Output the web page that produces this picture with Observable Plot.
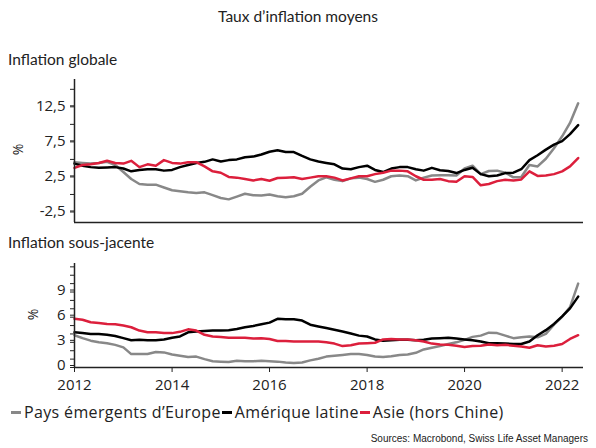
<!DOCTYPE html>
<html>
<head>
<meta charset="utf-8">
<script src="https://cdn.jsdelivr.net/npm/d3@7"></script>
<script src="https://cdn.jsdelivr.net/npm/@observablehq/plot@0.6"></script>
<style>
  html, body { margin: 0; padding: 0; background: #fff; }
  #root { position: relative; width: 596px; height: 448px; overflow: hidden; font-family: "Open Sans", sans-serif; color: #222; }
  .abs { position: absolute; white-space: nowrap; }
  #title { top: 7px; left: 0; width: 596px; text-align: center; font-family: Lato, sans-serif; font-size: 15.5px; }
  .sub { left: 8px; font-family: Lato, sans-serif; font-size: 15.5px; }
  .pct { font-size: 14px; transform: rotate(-90deg); transform-origin: center; }
  #legend { top: 401px; left: 10px; font-size: 16px; letter-spacing: 0.35px; display: flex; align-items: center; }
  #legend .sw { display: inline-block; width: 10px; height: 3px; margin-right: 3px; margin-left: 1px; }
  #src { top: 433px; right: 8px; font-family: "Liberation Sans", Arial, sans-serif; font-size: 10px; }
  .plot { position: absolute; left: 0; }
</style>
</head>
<body>
<div id="root">
  <div id="title" class="abs">Taux d’inflation moyens</div>
  <div class="abs sub" style="top:50px">Inflation globale</div>
  <div class="abs sub" style="top:233px">Inflation sous-jacente</div>
  <div class="abs pct" style="left:12px; top:140px">%</div>
  <div class="abs pct" style="left:27px; top:305px">%</div>
  <div id="top" class="plot" style="top:70px"></div>
  <div id="bot" class="plot" style="top:255px"></div>
  <div id="legend" class="abs"></div>
  <div id="src" class="abs">Sources: Macrobond, Swiss Life Asset Managers</div>
</div>
<script>
// Series
const seriesNames = ["Pays émergents d’Europe", "Amérique latine", "Asie (hors Chine)"];
const seriesColors = ["#888888", "#000000", "#dc1f3c"];

// Bi-monthly observations, Jan 2012 .. May 2022
const startYear = 2012, stepMonths = 2;

// Inflation globale (%)
const topEurope = [4.6, 4.5, 4.4, 4.5, 4.65, 4.2, 3.2, 2.2, 1.5, 1.4, 1.4, 1.0, 0.6, 0.45, 0.3, 0.2, 0.3, -0.1, -0.5, -0.7, -0.3, 0.1,
  -0.1, -0.15, 0.0, -0.25, -0.4, -0.25, 0.1, 1.1, 2.0, 2.45, 2.1, 1.9, 2.3, 2.4, 2.2, 1.8, 2.1, 2.6, 2.7, 2.6, 2.0,
  2.4, 2.7, 2.75, 2.75, 2.7, 3.7, 4.1, 2.9, 3.35, 3.4, 3.1, 2.45, 2.5, 4.2, 4.0, 5.1, 6.6, 8.3, 10.2, 13.0];
const topLatam = [4.4, 4.1, 3.9, 3.8, 3.85, 3.9, 3.7, 3.3, 3.5, 3.6, 3.6, 3.4, 3.5, 3.9, 4.2, 4.5, 4.65, 5.0, 4.7, 4.9, 5.0, 5.3,
  5.4, 5.7, 6.1, 6.3, 6.05, 6.05, 5.5, 5.0, 4.7, 4.5, 4.3, 3.7, 3.6, 3.9, 4.1, 3.5, 3.2, 3.7, 3.9, 3.9, 3.6,
  3.4, 3.8, 3.45, 3.35, 3.05, 3.5, 3.8, 2.9, 2.6, 2.7, 3.05, 3.1, 3.6, 4.9, 5.6, 6.4, 7.1, 7.6, 8.6, 9.9];
const topAsia = [3.8, 4.2, 4.3, 4.5, 4.8, 4.5, 4.4, 4.8, 3.9, 4.3, 4.1, 4.9, 4.5, 4.4, 4.6, 4.6, 4.0, 3.3, 3.1, 2.5, 2.4, 2.2,
  2.0, 2.2, 1.95, 2.35, 2.4, 2.45, 2.2, 2.4, 2.6, 2.6, 2.4, 2.0, 2.3, 2.6, 2.6, 2.9, 3.1, 3.4, 3.4, 3.3, 2.6,
  2.1, 2.1, 2.2, 1.9, 1.8, 2.6, 2.5, 1.3, 1.5, 1.9, 2.1, 2.0, 2.15, 3.3, 2.65, 2.7, 2.9, 3.3, 4.0, 5.2];

// Inflation sous-jacente (%)
const botEurope = [3.85, 3.5, 3.2, 3.0, 2.9, 2.7, 2.4, 1.6, 1.6, 1.6, 1.85, 1.8, 1.55, 1.4, 1.25, 1.3, 1.0, 0.75, 0.7, 0.65, 0.8, 0.75,
  0.75, 0.8, 0.75, 0.7, 0.6, 0.55, 0.6, 0.85, 1.05, 1.3, 1.4, 1.5, 1.6, 1.6, 1.5, 1.3, 1.25, 1.35, 1.5, 1.55, 1.75,
  2.15, 2.35, 2.55, 2.8, 3.0, 3.3, 3.65, 3.8, 4.15, 4.1, 3.8, 3.5, 3.6, 3.7, 3.6, 4.0, 5.1, 6.05, 7.2, 10.0];
const botLatam = [4.2, 4.1, 4.0, 4.0, 3.9, 3.75, 3.5, 3.25, 3.3, 3.25, 3.25, 3.35, 3.55, 3.7, 4.2, 4.3, 4.35, 4.4, 4.4, 4.45, 4.6, 4.8,
  4.95, 5.15, 5.35, 5.8, 5.75, 5.75, 5.6, 5.1, 4.9, 4.7, 4.5, 4.3, 4.05, 3.8, 3.7, 3.35, 3.2, 3.25, 3.3, 3.3, 3.25,
  3.3, 3.45, 3.5, 3.55, 3.45, 3.35, 3.25, 3.1, 2.9, 2.9, 2.85, 2.8, 2.8, 3.1, 3.85, 4.45, 5.2, 6.1, 7.05, 8.45];
const botAsia = [5.8, 5.7, 5.4, 5.3, 5.2, 5.15, 5.0, 4.8, 4.4, 4.2, 4.2, 4.1, 4.1, 4.25, 4.55, 4.4, 3.9, 3.7, 3.65, 3.55, 3.55, 3.55,
  3.45, 3.5, 3.4, 3.15, 3.15, 3.1, 3.1, 3.1, 3.1, 3.0, 2.85, 2.55, 2.65, 2.85, 2.9, 2.95, 3.35, 3.4, 3.35, 3.35, 3.25,
  3.1, 2.85, 2.75, 2.7, 2.6, 2.45, 2.55, 2.6, 2.75, 2.65, 2.7, 2.6, 2.5, 2.35, 2.65, 2.5, 2.6, 2.8, 3.4, 3.85];

// Axis ticks
const topLabelTicks = [-2.5, 2.5, 7.5, 12.5];
const topMinorTicks = [-2.5, 0, 2.5, 5, 7.5, 10, 12.5, 15];
const botLabelTicks = [0, 3, 6, 9];
const botMinorTicks = [0, 1, 2, 3, 4, 5, 6, 7, 8, 9, 10, 11, 12];
const yearTicks = [2012, 2014, 2016, 2018, 2020, 2022];

const dateAt = i => new Date(Date.UTC(startYear, i * stepMonths, 1));
function toRows(arrs) {
  const rows = [];
  arrs.forEach((arr, s) => arr.forEach((v, i) => rows.push({series: seriesNames[s], date: dateAt(i), value: v})));
  return rows;
}
const x0 = new Date(Date.UTC(2012, 0, 1));
const x1 = new Date(Date.UTC(2022, 5, 10));
const comma = d => String(d).replace(".", ",");

function panel({rows, yDomain, labelTicks, minorTicks, height, marginTop, marginBottom, showX, labelDy}) {
  const marks = [
    Plot.axisY({ticks: minorTicks, tickFormat: () => "", tickSize: 4, label: null}),
    Plot.axisY({ticks: labelTicks, tickFormat: comma, tickSize: 4, tickPadding: 5, fontSize: 15, dy: labelDy, label: null}),
  ];
  if (showX) marks.push(Plot.axisX({ticks: yearTicks.map(y => new Date(Date.UTC(y, 0, 1))), tickFormat: d3.utcFormat("%Y"), tickSize: 5, tickPadding: 7, fontSize: 15, label: null}));
  marks.push(
    Plot.line(rows, {x: "date", y: "value", z: "series", stroke: "series", strokeWidth: 2.5}),
    Plot.ruleX([x0], {stroke: "#222", strokeWidth: 1.5}),
    Plot.ruleY([yDomain[0]], {stroke: "#222", strokeWidth: 1.5})
  );
  return Plot.plot({
    width: 596, height, marginLeft: 74, marginRight: 13, marginTop, marginBottom,
    style: {fontFamily: "'Open Sans', sans-serif", fontSize: "15px", color: "#222", background: "transparent", overflow: "visible"},
    x: {type: "utc", domain: [x0, x1], axis: showX ? undefined : null, label: null},
    y: {domain: yDomain, label: null},
    color: {domain: seriesNames, range: seriesColors},
    marks
  });
}

document.getElementById("top").appendChild(panel({
  rows: toRows([topEurope, topLatam, topAsia]), yDomain: [-4, 16.4],
  labelTicks: topLabelTicks, minorTicks: topMinorTicks, height: 160, marginTop: 9, marginBottom: 8, showX: false, labelDy: -1
}));
document.getElementById("bot").appendChild(panel({
  rows: toRows([botEurope, botLatam, botAsia]), yDomain: [0, 12.4],
  labelTicks: botLabelTicks, minorTicks: botMinorTicks, height: 145, marginTop: 8, marginBottom: 33, showX: true, labelDy: -2
}));

const legend = document.getElementById("legend");
seriesNames.forEach((name, i) => {
  const sw = document.createElement("span");
  sw.className = "sw";
  sw.style.background = seriesColors[i];
  const t = document.createElement("span");
  t.textContent = name;
  legend.appendChild(sw);
  legend.appendChild(t);
});
</script>
</body>
</html>
